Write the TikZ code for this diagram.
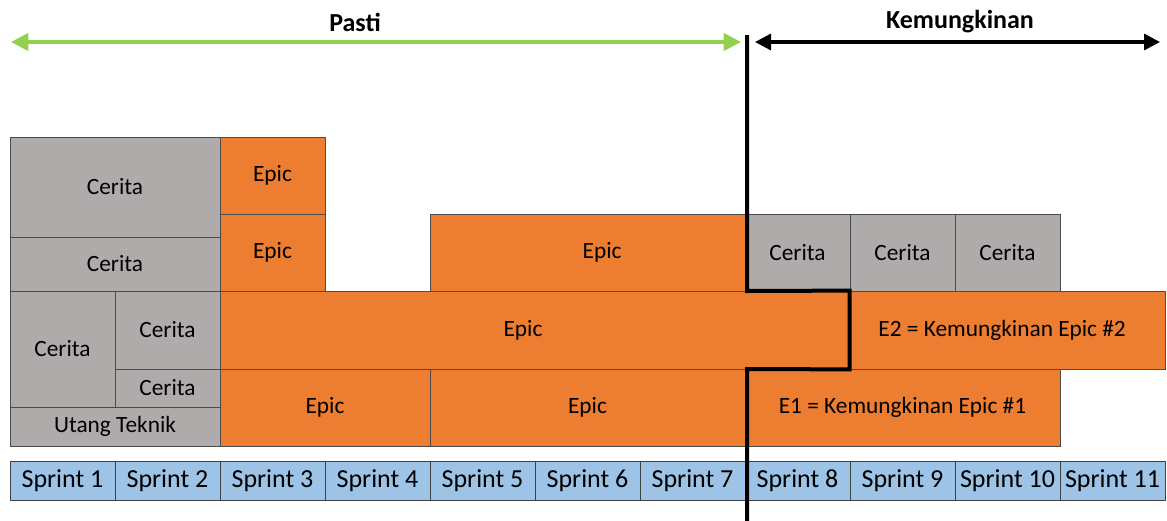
\documentclass[tikz,border=0pt]{standalone}
\usepackage{fontspec}
\setmainfont{Carlito}
\usetikzlibrary{arrows.meta}
\definecolor{abugray}{HTML}{AFABAB}
\definecolor{epicorange}{HTML}{ED7D31}
\definecolor{sprintblue}{HTML}{9DC3E6}
\definecolor{pastigreen}{HTML}{92D050}
\tikzstyle{cerita} = [rectangle, fill=abugray, draw=black!70, line width=0.6pt, inner sep=0pt, text centered, font=\fontsize{17.5}{20}\selectfont]
\tikzstyle{epic} = [rectangle, fill=epicorange, draw=black!70, line width=0.6pt, inner sep=0pt, text centered, font=\fontsize{17.5}{20}\selectfont]
\tikzstyle{sprint} = [rectangle, fill=sprintblue, draw=black!75, line width=0.6pt, inner sep=0pt, minimum width=78.75pt, minimum height=29.25pt, font=\fontsize{19.5}{22}\selectfont]
\tikzstyle{judul} = [font=\fontsize{19.5}{22}\selectfont\bfseries]
\tikzstyle{batas} = [line width=3pt, black, line join=miter]

\begin{document}
\begin{tikzpicture}[x=0.75pt, y=-0.75pt]
        \useasboundingbox (0,0) rectangle (1167,521);
        % judul di atas
        \node (pasti) [judul] at (355,22) {Pasti};
        \node (mungkin) [judul] at (960,22) {Kemungkinan};
        \coordinate (pastiL) at (11,42);
        \coordinate (pastiR) at (741,42);
        \coordinate (mungkinL) at (755,42);
        \coordinate (mungkinR) at (1160,42);
        \draw [pastigreen, line width=2.5pt, {Triangle[length=13pt,width=13pt]}-{Triangle[length=13pt,width=13pt]}] (pastiL) -- (pastiR);
        \draw [black, line width=2.5pt, {Triangle[length=12pt,width=12pt]}-{Triangle[length=12pt,width=12pt]}] (mungkinL) -- (mungkinR);
        % blok kiri
        \node (cer1) [cerita, minimum width=157.5pt, minimum height=75pt] at (115,187) {Cerita};
        \node (cer2) [cerita, minimum width=157.5pt, minimum height=40.5pt] at (115,264) {Cerita};
        \node (cer3) [cerita, minimum width=78.75pt, minimum height=87pt] at (62.5,349) {Cerita};
        \node (cer4) [cerita, minimum width=78.75pt, minimum height=58.5pt] at (167.5,330) {Cerita};
        \node (cer5) [cerita, minimum width=78.75pt, minimum height=28.5pt] at (167.5,388) {Cerita};
        \node (utang) [cerita, minimum width=157.5pt, minimum height=29.25pt] at (115,426.5) {Utang Teknik};
        % epic
        \node (epA) [epic, minimum width=78.75pt, minimum height=57.75pt] at (272.5,175.5) {Epic};
        \node (epB) [epic, minimum width=78.75pt, minimum height=57.75pt] at (272.5,252.5) {Epic};
        \node (epC) [epic, minimum width=236.25pt, minimum height=57.75pt] at (587.5,252.5) {\hspace*{22pt}Epic};
        \node (epD) [epic, minimum width=472.5pt, minimum height=58.5pt] at (535,330) {Epic\hspace*{18pt}};
        \node (epE) [epic, minimum width=157.5pt, minimum height=57.75pt] at (325,407.5) {Epic};
        \node (epF) [epic, minimum width=236.25pt, minimum height=57.75pt] at (587.5,407.5) {Epic};
        % blok kanan
        \node (cerR1) [cerita, minimum width=78.75pt, minimum height=57.75pt] at (797.5,252.5) {Cerita};
        \node (cerR2) [cerita, minimum width=78.75pt, minimum height=57.75pt] at (902.5,252.5) {Cerita};
        \node (cerR3) [cerita, minimum width=78.75pt, minimum height=57.75pt] at (1007.5,252.5) {Cerita};
        \node (e2) [epic, minimum width=236.25pt, minimum height=58.5pt] at (1007.5,330) {E2 = Kemungkinan Epic \#2\hspace*{8pt}};
        \node (e1) [epic, minimum width=236.25pt, minimum height=57.75pt] at (902.5,407.5) {E1 = Kemungkinan Epic \#1};
        % sprint
        \foreach \i in {1,...,11}
            \node (s\i) [sprint] at ({105*\i-42.5},480.5) {Sprint \i};
        % garis batas
        \coordinate (garisAtas) at (747,35);
        \coordinate (garisBawah) at (747,521);
        \draw [batas] (garisAtas) -- (747,291) -- (e2.north west) -- (e2.south west) -- (747,369) -- (garisBawah);
    \end{tikzpicture}
\end{document}
